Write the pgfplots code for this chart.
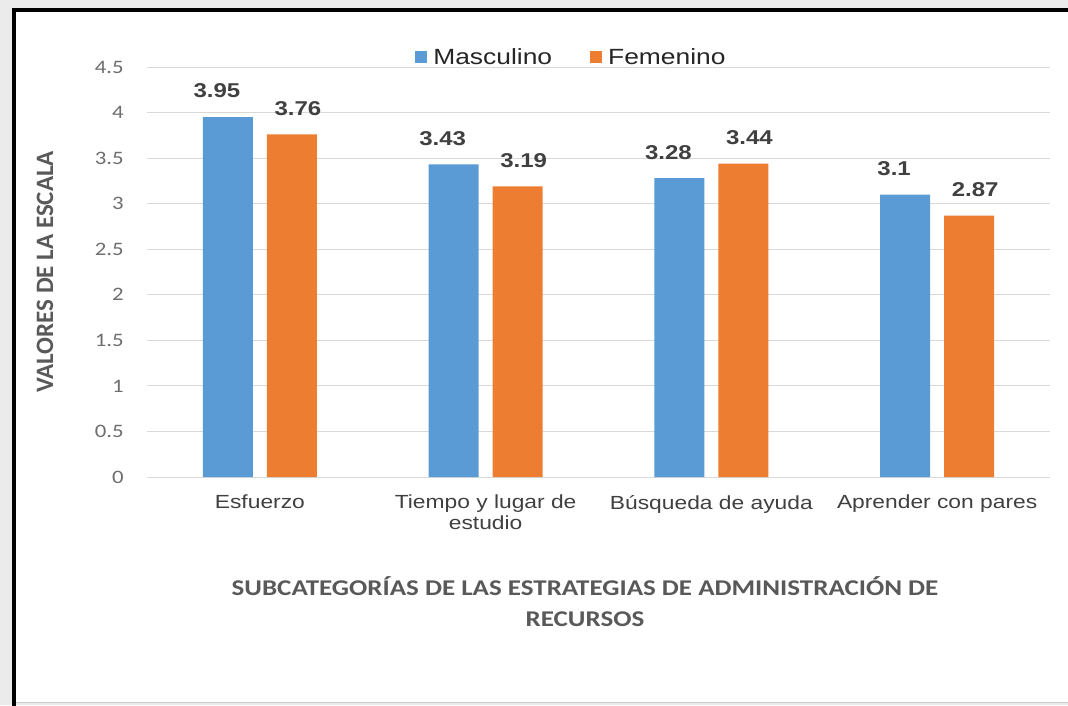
\documentclass[border=0pt]{standalone}
\usepackage{pgfplots}
\pgfplotsset{compat=1.18}
\usepackage{fontspec}
\setmainfont{Liberation Sans}[FakeStretch=1.2]
\newfontfamily\calib{Carlito}[FakeStretch=1.2]
\newfontfamily\calibn{Carlito}
\definecolor{mblue}{HTML}{5B9BD5}
\definecolor{morange}{HTML}{ED7D31}
\definecolor{tgray}{HTML}{595959}
\definecolor{lgray}{HTML}{6E6E6E}
\definecolor{dgray}{HTML}{404040}
\definecolor{ggray}{HTML}{D9D9D9}
\definecolor{bggray}{HTML}{EBEBEB}
\pgfplotsset{sqlegend/.style={legend image code/.code={\fill[##1] (0pt,-6pt) rectangle (12pt,6pt);}}}
\begin{document}
\begin{tikzpicture}[x=1pt,y=1pt]
\useasboundingbox (0,0) rectangle (1068,705);
\begin{scope}
\clip (0,0) rectangle (1068,705);
\fill[bggray] (0,0) rectangle (1068,705);
\fill[white] (14,3) rectangle (1080,695);
\draw[black!20, line width=0.8pt] (16,3) -- (1080,3);
\draw[black, line width=4.5pt] (14,-5) -- (14,695) -- (1080,695);
\end{scope}
\begin{axis}[
  at={(147pt,228pt)}, anchor=south west,
  scale only axis, width=903pt, height=410pt,
  ybar=14pt, bar width=50pt,
  xmin=-0.5, xmax=3.5, ymin=0, ymax=4.5,
  xtick={0,1,2,3},
  xticklabels={Esfuerzo,{Tiempo y lugar de\\estudio},B\'usqueda de ayuda,Aprender con pares},
  ytick={0,0.5,1,1.5,2,2.5,3,3.5,4,4.5},
  ymajorgrids, grid style={ggray, line width=1pt},
  axis line style={draw=none},
  major tick length=0pt,
  /pgf/number format/assume math mode=true,
  yticklabel style={font=\calib\fontsize{19}{19}\selectfont, text=lgray, anchor=east, inner sep=0pt, xshift=-23pt},
  xticklabel style={font=\fontsize{19}{21}\selectfont, text=dgray, align=center, anchor=north, inner sep=0pt, yshift=-18pt},
  nodes near coords,
  every node near coord/.append style={font=\bfseries\fontsize{20}{20}\selectfont, text=dgray, anchor=center, yshift=26pt},
  legend style={at={(0.470,1.0244)}, anchor=center, draw=none, fill=none, legend columns=2,
    font=\fontsize{22}{22}\selectfont, text=black!85,
    /tikz/every odd column/.append style={column sep=4pt},
    /tikz/every even column/.append style={column sep=36pt}},
  legend cell align=left,
]
\addplot[fill=mblue, draw=none, sqlegend, every node near coord/.append style={xshift=-11pt}]
  coordinates {(0,3.95) (1,3.43) (2,3.28) (3,3.1)};
\addlegendentry{Masculino}
\addplot[fill=morange, draw=none, sqlegend, every node near coord/.append style={xshift=6pt}]
  coordinates {(0,3.76) (1,3.19) (2,3.44) (3,2.87)};
\addlegendentry{Femenino}
\end{axis}
\node[rotate=90, font=\calibn\bfseries\fontsize{25}{25}\selectfont, text=tgray] at (45,433) {VALORES DE LA ESCALA};
\node[align=center, font=\calib\bfseries\fontsize{22.5}{31}\selectfont, text=tgray] at (585,103) {SUBCATEGOR\'IAS DE LAS ESTRATEGIAS DE ADMINISTRACI\'ON DE\\RECURSOS};
\end{tikzpicture}
\end{document}
